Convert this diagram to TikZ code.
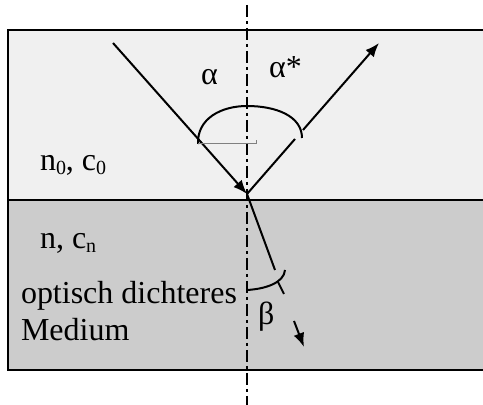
\documentclass[tikz,border=0pt]{standalone}
\usepackage{fontspec}
\setmainfont{Liberation Serif}
\usetikzlibrary{arrows.meta}
\newcommand\mysub[1]{\raisebox{-0.12em}{\fontsize{10}{12}\selectfont #1}}
\begin{document}
\begin{tikzpicture}[x=0.5pt,y=-0.5pt,
  every node/.style={inner sep=0pt, outer sep=0pt, font=\fontsize{16}{19}\selectfont},
  lbl/.style={anchor=base west},
  border/.style={line width=1.1pt, black},
  ray/.style={line width=1pt, black},
  tip/.style={-{Latex[length=7pt,width=5.5pt]}},
  axis/.style={line width=1pt, dash pattern=on 6pt off 2pt on 1.5pt off 2pt},
  arcl/.style={line width=1pt},
  helper/.style={line width=0.5pt, gray}]
\useasboundingbox (0,0) rectangle (483,405);
% media
\fill[fill={rgb,255:red,240;green,240;blue,240}] (8,30) rectangle (483,200);
\fill[fill={rgb,255:red,204;green,204;blue,204}] (8,200) rectangle (483,370);
\draw[border] (483,30) -- (8,30) -- (8,370) -- (483,370);
\draw[border] (8,200) -- (483,200);
% coordinates
\coordinate (axTop) at (247,5);
\coordinate (axBot) at (247,405);
\coordinate (S) at (113,43);
\coordinate (O) at (247,194);
\coordinate (R1) at (295,139);
\coordinate (R2) at (303,130);
\coordinate (Rend) at (379,43);
\coordinate (T1) at (275,270);
\coordinate (T2) at (278,282);
\coordinate (T3) at (284,294);
\coordinate (T4) at (294,321);
\coordinate (Tend) at (304,347);
\coordinate (AL) at (198,144);
\coordinate (AT) at (247,106);
\coordinate (AR) at (302,138);
\coordinate (H2) at (256,144);
\coordinate (H3) at (256,140);
\coordinate (BL) at (247,290);
\coordinate (BR) at (285,270);
% normal
\draw[axis] (axTop) -- (axBot);
% rays
\draw[ray,tip] (S) -- (O);
\draw[ray] (O) -- (R1);
\draw[ray,tip] (R2) -- (Rend);
\draw[ray] (O) -- (T1);
\draw[ray] (T2) -- (T3);
\draw[ray,tip] (T4) -- (Tend);
% angle arcs
\draw[arcl] (AL) .. controls (197,118) and (222,106) .. (AT)
  .. controls (276,106) and (302,116) .. (AR);
\draw[helper] (AL) -- (H2) -- (H3);
\draw[arcl] (BL) .. controls (265,289) and (284,283) .. (BR);
% labels
\node[lbl] (alpha) at (201,85) {α};
\node[lbl] (alphastar) at (269,78) {α*};
\node[lbl] (beta) at (258,325) {β};
\node[lbl] (n0) at (40,171) {n\mysub{0}, c\mysub{0}};
\node[lbl] (n) at (40,249) {n, c\mysub{n}};
\node[lbl] (opt) at (21,304) {optisch dichteres};
\node[lbl] (med) at (21,341) {Medium};
\end{tikzpicture}
\end{document}
